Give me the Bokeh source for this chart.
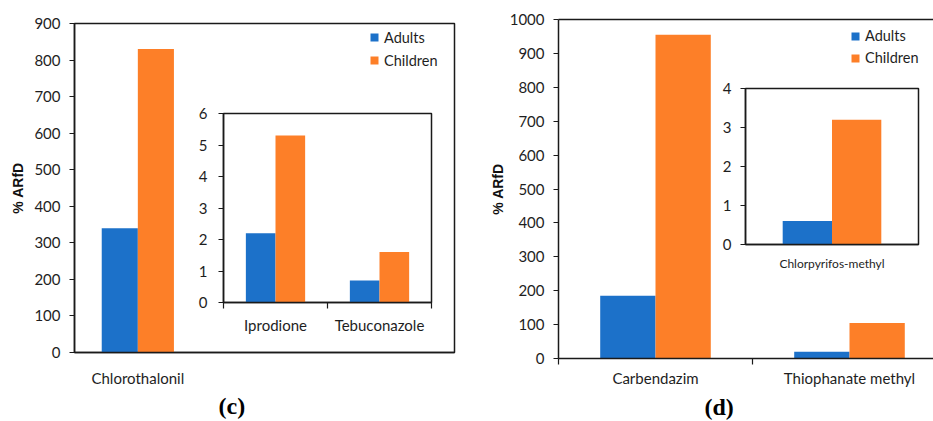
import numpy as np
from bokeh.plotting import figure
from bokeh.models import (Range1d, FixedTicker, LinearAxis, Legend, LegendItem, Title,
                          ColumnDataSource)
from bokeh.embed import file_html
from bokeh.resources import INLINE

# ---------------- data ----------------
series_names = ["Adults", "Children"]

c_main_categories = ["Chlorothalonil"]
c_main_adults = [340]
c_main_children = [830]
c_main_yticks = [0, 100, 200, 300, 400, 500, 600, 700, 800, 900]

c_inset_categories = ["Iprodione", "Tebuconazole"]
c_inset_adults = [2.2, 0.7]
c_inset_children = [5.3, 1.6]
c_inset_yticks = [0, 1, 2, 3, 4, 5, 6]

d_main_categories = ["Carbendazim", "Thiophanate methyl"]
d_main_adults = [185, 20]
d_main_children = [955, 105]
d_main_yticks = [0, 100, 200, 300, 400, 500, 600, 700, 800, 900, 1000]

d_inset_categories = ["Chlorpyrifos-methyl"]
d_inset_adults = [0.6]
d_inset_children = [3.2]
d_inset_yticks = [0, 1, 2, 3, 4]

# ---------------- style ----------------
BLUE = "#1C71C9"
ORANGE = "#FD7F28"
AX = "#1a1a1a"
TXT = "#1e1e1e"
FONT = "Lato"
BAR_W = 0.285


def panel(cats, adults, children, x_end, y_end, yticks, width, height,
          bl, br, bt, bb, boundary_ticks=False, cat_size="15px", tick_size="15px",
          ytick_standoff=8, cat_standoff=14, outline=True, top_axis=False,
          ylabel=None, ylabel_standoff=7, legend_loc=None, legend_row=20,
          title=None, title_offset=0, title_standoff=6):
    p = figure(width=width, height=height, x_range=Range1d(0, x_end),
               y_range=Range1d(0, y_end), output_backend="svg", toolbar_location=None,
               min_border_left=bl, min_border_right=br, min_border_top=bt,
               min_border_bottom=bb, x_axis_type=None, y_axis_type=None)
    p.xgrid.visible = False
    p.ygrid.visible = False
    p.background_fill_color = "white"
    p.border_fill_alpha = 0
    if outline:
        p.outline_line_color = AX
        p.outline_line_width = 1.5
        p.outline_line_alpha = 1
    else:
        p.outline_line_color = None

    idx = np.arange(len(cats))
    src = ColumnDataSource(dict(xa=idx + 0.5 - BAR_W / 2, xc=idx + 0.5 + BAR_W / 2,
                                adults=adults, children=children))
    ra = p.vbar(x="xa", top="adults", width=BAR_W, source=src,
                fill_color=BLUE, line_color=None)
    rc = p.vbar(x="xc", top="children", width=BAR_W, source=src,
                fill_color=ORANGE, line_color=None)

    yaxis = LinearAxis(ticker=FixedTicker(ticks=yticks, minor_ticks=[]))
    yaxis.axis_line_color = AX
    yaxis.axis_line_width = 1.5
    yaxis.major_tick_line_color = AX
    yaxis.major_tick_line_width = 1.2
    yaxis.major_tick_out = 5
    yaxis.major_tick_in = 0
    yaxis.major_label_standoff = ytick_standoff
    yaxis.major_label_text_font = FONT
    yaxis.major_label_text_font_size = tick_size
    yaxis.major_label_text_color = TXT
    if ylabel:
        yaxis.axis_label = ylabel
        yaxis.axis_label_text_font = "Liberation Sans"
        yaxis.axis_label_text_font_style = "bold"
        yaxis.axis_label_text_font_size = "14px"
        yaxis.axis_label_text_color = "#111111"
        yaxis.axis_label_standoff = ylabel_standoff
    p.add_layout(yaxis, "left")

    centers = [float(i + 0.5) for i in idx]
    bounds = [float(i) for i in range(len(cats) + 1)] if boundary_ticks else []
    xaxis = LinearAxis(ticker=FixedTicker(ticks=centers, minor_ticks=bounds))
    xaxis.major_label_overrides = {c: name for c, name in zip(centers, cats)}
    xaxis.axis_line_color = AX
    xaxis.axis_line_width = 1.5
    xaxis.major_tick_line_color = None
    xaxis.major_tick_out = 0
    xaxis.major_tick_in = 0
    xaxis.minor_tick_line_color = AX
    xaxis.minor_tick_line_width = 1.2
    xaxis.minor_tick_out = 6
    xaxis.minor_tick_in = 0
    xaxis.major_label_standoff = cat_standoff
    xaxis.major_label_text_font = FONT
    xaxis.major_label_text_font_size = cat_size
    xaxis.major_label_text_color = TXT
    p.add_layout(xaxis, "below")

    if top_axis:
        tax = LinearAxis(ticker=FixedTicker(ticks=[], minor_ticks=[]))
        tax.axis_line_color = AX
        tax.axis_line_width = 1.5
        tax.major_tick_line_color = None
        tax.minor_tick_line_color = None
        tax.major_tick_out = 0
        tax.major_label_text_font_size = "0px"
        p.add_layout(tax, "above")

    if legend_loc is not None:
        leg = Legend(items=[LegendItem(label=series_names[0], renderers=[ra]),
                            LegendItem(label=series_names[1], renderers=[rc])],
                     location=legend_loc, glyph_width=10, glyph_height=10,
                     label_text_font=FONT, label_text_font_size="14.5px",
                     label_text_color=TXT, label_standoff=5, label_height=legend_row,
                     padding=0, spacing=3, margin=0, border_line_color=None,
                     background_fill_alpha=0)
        p.add_layout(leg)

    if title:
        t = Title(text=title, text_font="Liberation Serif", text_font_style="bold",
                  text_font_size="24px", align="left", offset=title_offset,
                  text_color="#000000", standoff=title_standoff)
        p.add_layout(t, "below")
    return p


# main (c): frame 74..454 x, 23..352 y (screen px)
pc = panel(c_main_categories, c_main_adults, c_main_children, 3, 900, c_main_yticks,
           464, 413, 70, 14, 15, 69, ylabel="% ARfD", ylabel_standoff=5,
           ytick_standoff=9, cat_standoff=16, legend_loc=(295, 282), legend_row=20,
           title="(c)", title_offset=144, title_standoff=3)
# main (d): frame 558..933 x, 19..358 y
pd_ = panel(d_main_categories, d_main_adults, d_main_children, 375 / 194, 1000,
            d_main_yticks, 463, 413, 88, 0, 11, 63, boundary_ticks=True,
            outline=False, top_axis=True, ylabel="% ARfD", ylabel_standoff=1,
            ytick_standoff=9, cat_standoff=4, legend_loc=(292, 291), legend_row=19,
            title="(d)", title_offset=146, title_standoff=4)
# inset (c): frame 223..431 x, 113..302 y
ic = panel(c_inset_categories, c_inset_adults, c_inset_children, 2, 6, c_inset_yticks,
           249, 233, 33, 8, 8, 36, boundary_ticks=True, ytick_standoff=11,
           cat_standoff=7)
# inset (d): frame 745..918 x, 88..244 y
id_ = panel(d_inset_categories, d_inset_adults, d_inset_children, 1, 4, d_inset_yticks,
            211, 194, 30, 8, 8, 30, cat_size="12px", ytick_standoff=9,
            cat_standoff=11)

for fig, (left, top) in [(pc, (4, 8)), (pd_, (470, 8)), (ic, (190, 105)), (id_, (715, 80))]:
    fig.styles = {"position": "absolute", "left": f"{left}px", "top": f"{top}px"}

open("out.html", "w").write(file_html([pc, pd_, ic, id_], INLINE))
